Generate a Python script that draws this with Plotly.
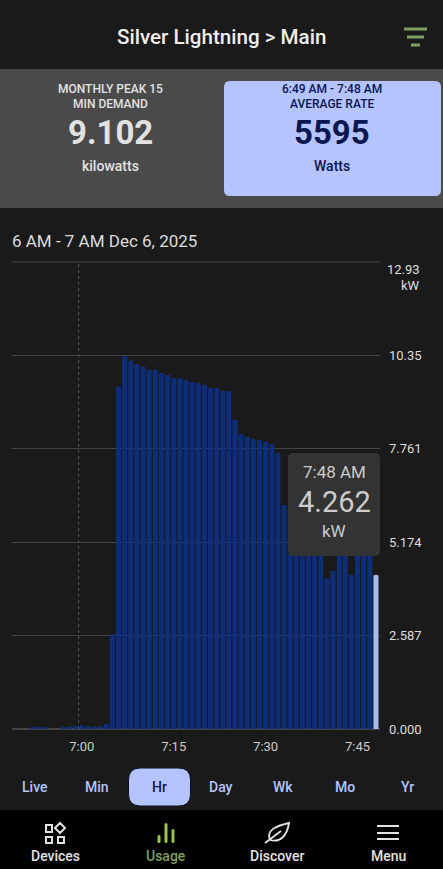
import plotly.graph_objects as go

W, H = 443, 869

minutes = [f'6:{m}' for m in range(49, 60)] + [f'7:{m:02d}' for m in range(0, 49)]
kw = [0, 0, 0, 0.05, 0.06, 0.05, 0, 0, 0.05, 0.07, 0.09, 0.10, 0.08, 0.07, 0.07, 0.14,
      2.62, 9.47, 10.33, 10.2, 10.1, 10.03, 9.95, 9.95, 9.86, 9.81, 9.72, 9.72, 9.67, 9.61,
      9.58, 9.53, 9.45, 9.45, 9.36, 9.36, 8.56, 8.17, 8.09, 8.03, 8.0, 7.95, 7.89, 7.65, 6.2,
      6.1, 6.0, 5.9, 5.6, 5.4, 5.0, 4.18, 4.38, 4.95, 5.1, 4.27, 5.2, 5.1, 5.0, 4.262]
x_ticks = ['7:00', '7:15', '7:30', '7:45']
y_ticks = [0, 2.587, 5.174, 7.761, 10.35]
y_labels = ['0.000', '2.587', '5.174', '7.761', '10.35']
y_max = 12.93
ranges = ['Live', 'Min', 'Hr', 'Day', 'Wk', 'Mo', 'Yr']
nav = ['Devices', 'Usage', 'Discover', 'Menu']

BG = '#1a1a1a'
BLUE = '#b5c4ff'
NAVY = '#0a1650'
GREEN = '#7f9f60'
LIGHT = '#e2e2e2'
FONT = 'Roboto'


def px(x):
    return x / W


def py(y):
    return 1 - y / H


def rrect(x0, y0, x1, y1, r):
    return (f'M {px(x0 + r)} {py(y0)} L {px(x1 - r)} {py(y0)} Q {px(x1)} {py(y0)} {px(x1)} {py(y0 + r)} '
            f'L {px(x1)} {py(y1 - r)} Q {px(x1)} {py(y1)} {px(x1 - r)} {py(y1)} '
            f'L {px(x0 + r)} {py(y1)} Q {px(x0)} {py(y1)} {px(x0)} {py(y1 - r)} '
            f'L {px(x0)} {py(y0 + r)} Q {px(x0)} {py(y0)} {px(x0 + r)} {py(y0)} Z')


def box(x0, y0, x1, y1, fill, layer='below', line=None):
    return dict(type='rect', xref='paper', yref='paper', x0=px(x0), x1=px(x1), y0=py(y0), y1=py(y1),
                fillcolor=fill, line=line or dict(width=0), layer=layer)


def rbox(x0, y0, x1, y1, r, fill, layer='below', line=None):
    return dict(type='path', xref='paper', yref='paper', path=rrect(x0, y0, x1, y1, r),
                fillcolor=fill, line=line or dict(width=0), layer=layer)


def seg(x0, y0, x1, y1, color, width=2, layer='above'):
    return dict(type='line', xref='paper', yref='paper', x0=px(x0), x1=px(x1), y0=py(y0), y1=py(y1),
                line=dict(color=color, width=width), layer=layer)


def label(x, y, text, size, color, weight=400, anchor='center'):
    return dict(xref='paper', yref='paper', x=px(x), y=py(y), text=text, showarrow=False,
                xanchor=anchor, yanchor='middle', borderpad=0,
                font=dict(family=FONT, size=size, color=color, weight=weight))


def leaf(coords):
    parts = []
    for c in coords:
        if isinstance(c, str):
            parts.append(c)
        else:
            parts.append(f'{px(c[0])} {py(c[1])}')
    return ' '.join(parts)


shapes = [
    box(0, 69, W, 208, '#4a4a4a'),
    rbox(224, 81, 441, 196, 6, BLUE),
    # top gridline, the axis does not draw one at its very end
    seg(12, 262, 380, 262, '#444444', 1, layer='below'),
    # tooltip
    rbox(288, 453, 380, 556, 5, '#333333', layer='above'),
    # selector and bottom bar
    rbox(128.5, 768, 190.5, 806, 12, BLUE, line=dict(color='#0a0f22', width=1)),
    box(0, 810, W, H, '#000000'),
    # filter icon
    seg(404, 29, 427, 29, GREEN, 3),
    seg(407, 37, 424, 37, GREEN, 3),
    seg(411, 45, 420, 45, GREEN, 3),
    # devices icon
    dict(type='path', xref='paper', yref='paper', layer='above', line=dict(color=LIGHT, width=2),
         path=leaf(['M', (46, 825), 'L', (52, 825), 'L', (52, 832), 'L', (46, 832), 'Z',
                    'M', (46, 837), 'L', (52, 837), 'L', (52, 843), 'L', (46, 843), 'Z',
                    'M', (58, 837), 'L', (64, 837), 'L', (64, 843), 'L', (58, 843), 'Z',
                    'M', (60, 823), 'L', (65, 828), 'L', (60, 833), 'L', (55, 828), 'Z'])),
    # usage icon
    rbox(157.5, 835, 160.5, 843, 1.5, '#9cc24f', layer='above'),
    rbox(164.5, 823, 167.5, 843, 1.5, '#9cc24f', layer='above'),
    rbox(171.5, 829, 174.5, 843, 1.5, '#9cc24f', layer='above'),
    # discover icon
    dict(type='path', xref='paper', yref='paper', layer='above', line=dict(color=LIGHT, width=1.8),
         path=leaf(['M', (270, 840), 'C', (266, 830), (276, 826), (289, 823),
                    'C', (287, 836), (280, 843), (270, 840),
                    'M', (265, 843), 'L', (281, 831)])),
    # menu icon
    seg(377, 826, 399, 826, LIGHT, 2),
    seg(377, 833, 399, 833, LIGHT, 2),
    seg(377, 839, 399, 839, LIGHT, 2),
    # 7:00 marker
    dict(type='line', xref='x', yref='paper', x0=10.5, x1=10.5, y0=py(729), y1=py(262),
         line=dict(color='#555555', width=1, dash='dot'), layer='above'),
]

annotations = [
    label(221, 37, 'Silver Lightning &gt; Main', 20.6, '#eeeeee', 500),
    label(110, 89, 'MONTHLY PEAK 15', 12, LIGHT, 500),
    label(110, 104, 'MIN DEMAND', 12, LIGHT, 500),
    label(110, 133, '9.102', 33, LIGHT, 700),
    label(110, 166, 'kilowatts', 14, LIGHT, 500),
    label(332, 89, '6:49 AM - 7:48 AM', 12, NAVY, 500),
    label(332, 104, 'AVERAGE RATE', 12, NAVY, 500),
    label(332, 133, '5595', 33, NAVY, 700),
    label(332, 166, 'Watts', 14, NAVY, 500),
    label(11, 241, '6 AM - 7 AM Dec 6, 2025', 17, '#dddddd', 400, 'left'),
    label(421, 270, '12.93', 13, '#dddddd', 400, 'right'),
    label(421, 285, 'kW', 13, '#dddddd', 400, 'right'),
    label(334, 472, '7:48 AM', 17, '#cccccc'),
    label(334, 502, '4.262', 29, '#cccccc'),
    label(334, 531, 'kW', 17, '#cccccc'),
]
for i, name in enumerate(ranges):
    annotations.append(label(35 + i * 62, 787, name, 14, NAVY if name == 'Hr' else BLUE, 500))
for i, name in enumerate(nav):
    annotations.append(label(55 + i * 111, 856, name, 14, GREEN if name == 'Usage' else LIGHT, 500))

colors = ['#0e2f80'] * (len(kw) - 1) + [BLUE]

fig = go.Figure(go.Bar(x=minutes, y=kw, marker=dict(color=colors, line=dict(width=0), cornerradius=1),
                       opacity=0.93, hoverinfo='skip'))
fig.update_layout(
    width=W, height=H,
    margin=dict(l=0, r=0, t=0, b=0),
    paper_bgcolor=BG, plot_bgcolor='rgba(0,0,0,0)',
    showlegend=False, bargap=0.18,
    shapes=shapes, annotations=annotations,
    xaxis=dict(domain=[px(12), px(380)], type='category', categoryorder='array', categoryarray=minutes,
               range=[-0.375, 59.66], tickmode='array', tickvals=x_ticks, ticktext=x_ticks,
               ticks='', showgrid=False, zeroline=False, showline=False, ticklabelstandoff=8,
               automargin=False, tickfont=dict(family=FONT, size=13, color='#cccccc')),
    yaxis=dict(domain=[py(729), py(262)], range=[0, y_max], side='right', tickmode='array',
               tickvals=y_ticks, ticktext=y_labels,
               gridcolor='#444444', gridwidth=1, zeroline=True, zerolinecolor='#444444', zerolinewidth=2,
               ticks='', ticklabelstandoff=8, showline=False, automargin=False,
               tickfont=dict(family=FONT, size=13, color='#dddddd')),
)
fig.write_html('out.html', config=dict(displayModeBar=False),
               post_script="document.body.style.margin='0';")
